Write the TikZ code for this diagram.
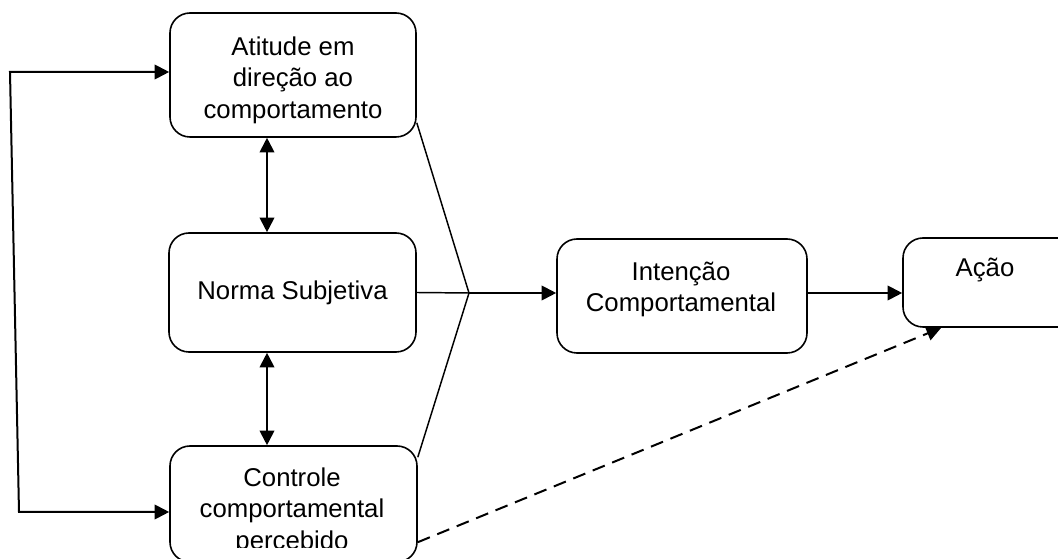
\documentclass[tikz,border=0pt]{standalone}
\usepackage{fontspec}
\setmainfont{Liberation Sans}
\usetikzlibrary{arrows.meta,calc}
\begin{document}
\begin{tikzpicture}[x=0.75pt,y=-0.75pt,
  txt/.style={font=\fontsize{19.3}{23.3}\selectfont, align=center, inner sep=0pt},
  box/.style={draw, line width=1.2pt, rounded corners=15pt, txt},
  label text/.style={txt, anchor=north},
  tip/.tip={Triangle[length=11pt,width=11pt]},
  link/.style={line width=1.5pt, -tip},
  both/.style={line width=1.5pt, tip-tip},
  merge/.style={line width=1.1pt},
  dashlink/.style={line width=1.5pt, dash pattern=on 9.75pt off 6pt, -tip}]
\useasboundingbox (0,0) rectangle (1058,559);
\clip (0,0) rectangle (1058,559);

% the three determinants
\node[box, minimum width=184.5pt, minimum height=93pt] (A) at (293,75) {};
\node[label text] (Atxt) at (293,37) {Atitude em\\direção ao\\comportamento};
\node[box, minimum width=185.25pt, minimum height=89.25pt] (N) at (292.5,292.5)
  {Norma Subjetiva};
\node[box, minimum width=185.25pt, minimum height=87pt] (C) at (293.5,504) {};
\begin{scope}
  \clip (170,446) rectangle (417,548);
  \node[label text] (Ctxt) at (292,468) {Controle\\comportamental\\percebido};
\end{scope}

% intention and behaviour
\node[box, minimum width=187.5pt, minimum height=85.5pt] (I) at (682,296) {};
\node[label text] (Itxt) at (681,262) {Intenção\\Comportamental};
\node[box, minimum width=140.25pt, minimum height=66.75pt] (D) at (996.5,282.5) {};
\node[label text] (Dtxt) at (985,258) {Ação};

% helper points
\coordinate (M) at (469,293);
\coordinate (v) at (267,0);
\coordinate (ft) at (10,72);
\coordinate (fb) at (19,512);

% correlations between the determinants
\draw[both] (v |- A.south) -- (v |- N.north);
\draw[both] (v |- N.south) -- (v |- C.north);
\draw[both] (A.west |- ft) -- (ft) -- (fb) -- (C.west |- fb);

% converging lines into the intention
\draw[merge] ($(A.south east)+(0,-15)$) -- (M);
\draw[merge] (N.east) -- (M);
\draw[merge] ($(C.north east)+(0,12)$) -- (M);
\draw[link] (M) -- (M -| I.west);
\draw[link] (I.east |- M) -- (D.west |- M);

% direct path from perceived control to behaviour
\draw[dashlink] ($(C.north east)+(0,97)$) -- ($(D.south west)+(39,0)$);
\end{tikzpicture}
\end{document}
